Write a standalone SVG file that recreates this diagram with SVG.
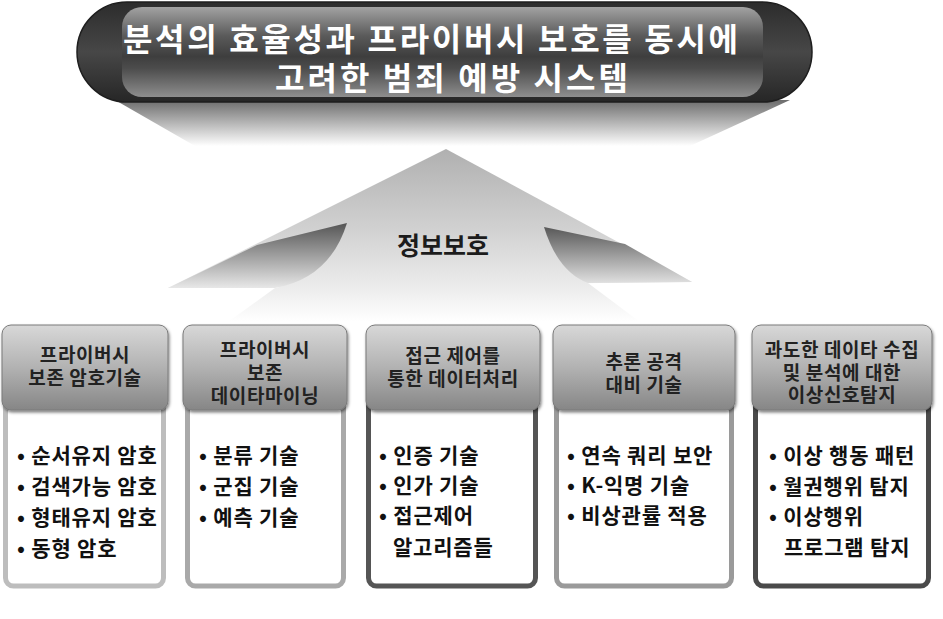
<svg xmlns="http://www.w3.org/2000/svg" width="943" height="619" viewBox="0 0 943 619">
<style>
.ttl{font-family:"Noto Sans CJK KR","Noto Sans",sans-serif;font-weight:bold;font-size:32px;fill:#ffffff}
.hd{font-family:"Noto Sans CJK KR","Noto Sans",sans-serif;font-weight:bold;font-size:19px;letter-spacing:0.6px;fill:#222222;text-anchor:middle}
.bl{font-family:"Noto Sans CJK KR","Noto Sans",sans-serif;font-weight:bold;font-size:21px;letter-spacing:0.8px;fill:#111111}
.lbl{font-family:"Noto Sans CJK KR","Noto Sans",sans-serif;font-weight:bold;font-size:25px;fill:#1c1c1c;text-anchor:middle}
.hdr{fill:url(#hdrGrad);stroke:#7a7a7a;stroke-width:1;filter:url(#sh)}
.body{fill:#ffffff;stroke-width:5}
</style>
<defs>
<linearGradient id="pillGrad" x1="0" y1="0" x2="0" y2="1">
<stop offset="0" stop-color="#2c2c2c"/><stop offset="0.5" stop-color="#474747"/><stop offset="1" stop-color="#262626"/>
</linearGradient>
<linearGradient id="panelGrad" x1="0" y1="0" x2="0" y2="1">
<stop offset="0" stop-color="#a2a2a2"/><stop offset="0.32" stop-color="#5a5a5a"/><stop offset="0.55" stop-color="#3e3e3e"/><stop offset="0.68" stop-color="#4c4c4c"/><stop offset="1" stop-color="#8e8e8e"/>
</linearGradient>
<linearGradient id="shadowGrad" x1="0" y1="0" x2="0" y2="1">
<stop offset="0" stop-color="#6c6c6c"/><stop offset="1" stop-color="#ffffff"/>
</linearGradient>
<linearGradient id="bodyGrad" gradientUnits="userSpaceOnUse" x1="0" y1="149" x2="0" y2="322">
<stop offset="0" stop-color="#b0b0b0"/><stop offset="0.45" stop-color="#d0d0d0"/><stop offset="0.8" stop-color="#ececec"/><stop offset="1" stop-color="#ffffff"/>
</linearGradient>
<linearGradient id="curlL" gradientUnits="userSpaceOnUse" x1="0" y1="223" x2="0" y2="290">
<stop offset="0" stop-color="#555555"/><stop offset="1" stop-color="#ececec"/>
</linearGradient>
<linearGradient id="curlR" gradientUnits="userSpaceOnUse" x1="0" y1="227" x2="0" y2="284">
<stop offset="0" stop-color="#585858"/><stop offset="1" stop-color="#e2e2e2"/>
</linearGradient>
<linearGradient id="hdrGrad" x1="0" y1="0" x2="0" y2="1">
<stop offset="0" stop-color="#d8d8d8"/><stop offset="0.5" stop-color="#b2b2b2"/><stop offset="1" stop-color="#868686"/>
</linearGradient>
<filter id="sh" x="-10%" y="-10%" width="120%" height="130%">
<feDropShadow dx="1" dy="2" stdDeviation="1.5" flood-color="#000000" flood-opacity="0.5"/>
</filter>
</defs>
<rect width="943" height="619" fill="#ffffff"/>

<g id="banner">
<polygon points="115,100 790,100 690,146 195,146" fill="url(#shadowGrad)"/>
<rect x="77" y="2" width="735" height="100" rx="50" fill="url(#pillGrad)" stroke="#1e1e1e" stroke-width="1.5"/>
<rect x="122" y="7" width="641" height="90" rx="20" fill="url(#panelGrad)"/>
<text class="ttl" x="123" y="51" textLength="615" lengthAdjust="spacing">분석의 효율성과 프라이버시 보호를 동시에</text>
<text class="ttl" x="275" y="90" textLength="353" lengthAdjust="spacing">고려한 범죄 예방 시스템</text>
</g>

<g id="info-protection">
<polygon points="446,149 692,282 168,288" fill="url(#bodyGrad)"/>
<path d="M347,223 Q330,278 275,288 L228,322 L640,322 L588,283 Q558,272 544,227 Z" fill="url(#bodyGrad)"/>
<path d="M347,223 L257,245 L168,288 L275,288 Q330,278 347,223 Z" fill="url(#curlL)"/>
<path d="M544,227 L625,244 L692,282 L588,283 Q558,272 544,227 Z" fill="url(#curlR)"/>
<text class="lbl" x="443" y="255">정보보호</text>
</g>

<g id="connectors"/>

<g id="box1">
<rect class="body" x="5.5" y="398" width="158" height="188" rx="8" stroke="#bdbdbd"/>
<rect class="hdr" x="2" y="325" width="166" height="85" rx="9"/>
<text class="hd" x="85" y="362">프라이버시</text>
<text class="hd" x="85" y="385">보존 암호기술</text>
<text class="bl" x="17" y="463">• 순서유지 암호</text>
<text class="bl" x="17" y="494">• 검색가능 암호</text>
<text class="bl" x="17" y="525">• 형태유지 암호</text>
<text class="bl" x="17" y="556">• 동형 암호</text>
</g>

<g id="box2">
<rect class="body" x="187.5" y="398" width="156" height="188" rx="8" stroke="#a9a9a9"/>
<rect class="hdr" x="183" y="325" width="164" height="85" rx="9"/>
<text class="hd" x="265" y="357">프라이버시</text>
<text class="hd" x="265" y="380">보존</text>
<text class="hd" x="265" y="403">데이타마이닝</text>
<text class="bl" x="199" y="463">• 분류 기술</text>
<text class="bl" x="199" y="494">• 군집 기술</text>
<text class="bl" x="199" y="525">• 예측 기술</text>
</g>

<g id="box3">
<rect class="body" x="368.5" y="398" width="167" height="188" rx="8" stroke="#555555"/>
<rect class="hdr" x="366" y="325" width="174" height="85" rx="9"/>
<text class="hd" x="453" y="363">접근 제어를</text>
<text class="hd" x="453" y="386">통한 데이터처리</text>
<text class="bl" x="379" y="463">• 인증 기술</text>
<text class="bl" x="379" y="493">• 인가 기술</text>
<text class="bl" x="379" y="523">• 접근제어</text>
<text class="bl" x="393" y="555">알고리즘들</text>
</g>

<g id="box4">
<rect class="body" x="556.5" y="398" width="175" height="188" rx="8" stroke="#9a9a9a"/>
<rect class="hdr" x="553" y="325" width="182" height="85" rx="9"/>
<text class="hd" x="644" y="369">추론 공격</text>
<text class="hd" x="644" y="392">대비 기술</text>
<text class="bl" x="567" y="463">• 연속 쿼리 보안</text>
<text class="bl" x="567" y="493">• K-익명 기술</text>
<text class="bl" x="567" y="523">• 비상관률 적용</text>
</g>

<g id="box5">
<rect class="body" x="755.5" y="398" width="173" height="188" rx="8" stroke="#4a4a4a"/>
<rect class="hdr" x="752" y="325" width="180" height="85" rx="9"/>
<text class="hd" x="842" y="357">과도한 데이타 수집</text>
<text class="hd" x="842" y="380">및 분석에 대한</text>
<text class="hd" x="842" y="402">이상신호탐지</text>
<text class="bl" x="769" y="463">• 이상 행동 패턴</text>
<text class="bl" x="769" y="494">• 월권행위 탐지</text>
<text class="bl" x="769" y="524">• 이상행위</text>
<text class="bl" x="784" y="555">프로그램 탐지</text>
</g>
</svg>
